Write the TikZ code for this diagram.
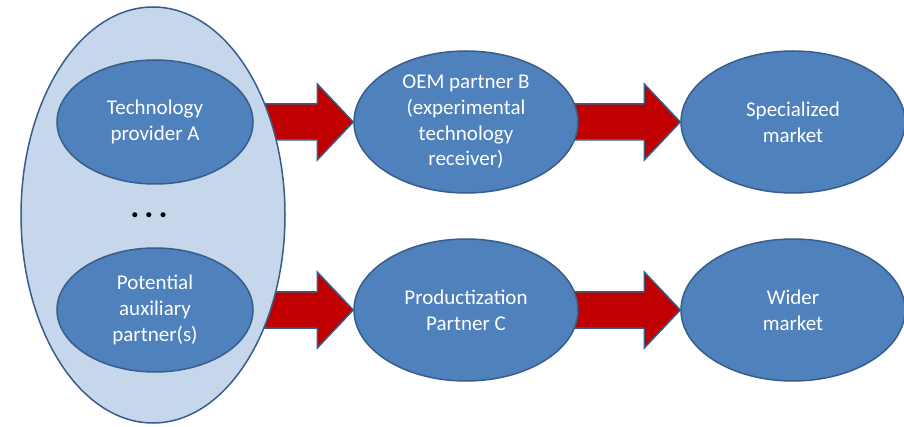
\documentclass[tikz,border=0pt]{standalone}
\usepackage{fontspec}
\setmainfont{Carlito}
\usetikzlibrary{shapes.geometric}
\definecolor{nodefill}{HTML}{4F81BD}
\definecolor{nodeline}{HTML}{385D8A}
\definecolor{groupfill}{HTML}{C6D6EB}
\definecolor{arrowfill}{HTML}{C00000}
\pgfdeclarelayer{back}
\pgfsetlayers{back,main}
\begin{document}
\begin{tikzpicture}[x=1pt,y=-1pt,
  blob/.style={ellipse, draw=nodeline, line width=1.5pt, fill=nodefill, text=white,
    align=center, inner sep=0pt, font=\fontsize{21}{25.7}\selectfont},
  outerblob/.style={blob, minimum width=224pt, minimum height=142pt},
  innerblob/.style={blob, minimum width=196pt, minimum height=124pt},
  groupblob/.style={ellipse, draw=nodeline, line width=1.5pt, fill=groupfill,
    minimum width=264pt, minimum height=416pt, inner sep=0pt},
  fatarrow/.style={draw=nodeline, line width=1.5pt, fill=arrowfill, line join=miter}
]
\useasboundingbox (0,0) rectangle (904,427);
\node[groupblob] (G) at (153,215) {};
\node[innerblob] (A) at (155,122) {Technology\\provider A};
\node[innerblob] (P) at (155,310) {Potential\\auxiliary\\partner(s)};
\node[font=\fontsize{34}{34}\selectfont\bfseries] (D) at (149,215) {.\hspace{5pt}.\hspace{5pt}.};
\node[outerblob] (B) at (466,122) {OEM partner B\\(experimental\\technology\\receiver)};
\node[outerblob] (C) at (466,310) {Productization\\Partner C};
\node[outerblob] (S) at (793,122) {Specialized\\market};
\node[outerblob] (W) at (793,310) {Wider\\market};
\begin{pgfonlayer}{back}
\foreach \s/\t in {A/B, B/S, P/C, C/W}{
  \draw[fatarrow] ([xshift=-12pt,yshift=18pt]\s.east) -- ([xshift=-36pt,yshift=18pt]\t.west)
    -- ([xshift=-36pt,yshift=38pt]\t.west) -- (\t.west)
    -- ([xshift=-36pt,yshift=-38pt]\t.west) -- ([xshift=-36pt,yshift=-18pt]\t.west)
    -- ([xshift=-12pt,yshift=-18pt]\s.east) -- cycle;
}
\end{pgfonlayer}
\end{tikzpicture}
\end{document}
